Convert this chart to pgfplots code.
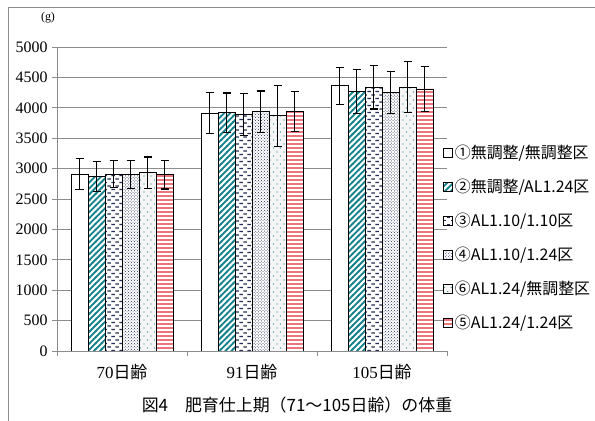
\documentclass[border=0pt]{standalone}
\usepackage{fontspec}
\setmainfont{Liberation Serif}
\newfontfamily\cjk{Noto Sans CJK JP}
\usepackage{pgfplots}
\pgfplotsset{compat=1.18}
\usetikzlibrary{patterns}

% thick diagonal stripes
\pgfdeclarepatternformonly{thickne}{\pgfqpoint{-1pt}{-1pt}}{\pgfqpoint{7pt}{7pt}}{\pgfqpoint{6pt}{6pt}}{
  \pgfsetlinewidth{1.8pt}
  \pgfpathmoveto{\pgfqpoint{-0.5pt}{-0.5pt}}\pgfpathlineto{\pgfqpoint{6.5pt}{6.5pt}}
  \pgfusepath{stroke}}
% staggered horizontal dashes
\pgfdeclarepatternformonly{hdashes}{\pgfqpoint{0pt}{0pt}}{\pgfqpoint{8pt}{7pt}}{\pgfqpoint{8pt}{7pt}}{
  \pgfsetlinewidth{1.2pt}
  \pgfpathmoveto{\pgfqpoint{0.5pt}{1.5pt}}\pgfpathlineto{\pgfqpoint{4pt}{1.5pt}}
  \pgfpathmoveto{\pgfqpoint{4.5pt}{5pt}}\pgfpathlineto{\pgfqpoint{8pt}{5pt}}
  \pgfusepath{stroke}}
% sparse small dots
\pgfdeclarepatternformonly{sparsedots}{\pgfqpoint{0pt}{0pt}}{\pgfqpoint{7pt}{8pt}}{\pgfqpoint{7pt}{8pt}}{
  \pgfpathcircle{\pgfqpoint{1.5pt}{2pt}}{0.6pt}
  \pgfpathcircle{\pgfqpoint{5pt}{6pt}}{0.6pt}
  \pgfusepath{fill}}
% thick horizontal lines
\pgfdeclarepatternformonly{thickh}{\pgfqpoint{0pt}{0pt}}{\pgfqpoint{4pt}{4pt}}{\pgfqpoint{4pt}{4pt}}{
  \pgfsetlinewidth{1.4pt}
  \pgfpathmoveto{\pgfqpoint{0pt}{2pt}}\pgfpathlineto{\pgfqpoint{4pt}{2pt}}
  \pgfusepath{stroke}}

\definecolor{tealS}{RGB}{20,130,140}
\definecolor{navyS}{RGB}{35,45,85}
\definecolor{redS}{RGB}{225,45,55}
\definecolor{gridG}{RGB}{140,140,140}

\begin{document}
\begin{tikzpicture}
\useasboundingbox (0,0) rectangle (595bp,421bp);
\draw[gridG, line width=0.8bp] (8bp,0) -- (8bp,414bp) -- (595bp,414bp);
\begin{axis}[
  at={(57bp,70bp)}, anchor=south west,
  scale only axis, width=390bp, height=304bp,
  ybar=0pt, bar width=17bp,
  xmin=-0.5, xmax=2.5, ymin=0, ymax=5000,
  xtick={0,1,2},
  xticklabels={70{\cjk 日齢},91{\cjk 日齢},105{\cjk 日齢}},
  minor xtick={-0.5,0.5,1.5,2.5},
  ytick={0,500,...,5000},
  axis x line*=bottom, axis y line*=left,
  axis line style={-, draw=gridG, line width=0.8bp},
  tick align=outside,
  major tick length=5bp, minor tick length=5bp,
  every major x tick/.append style={draw=none},
  every minor x tick/.append style={draw=gridG, line width=0.8bp},
  every major y tick/.append style={draw=gridG, line width=0.8bp},
  ymajorgrids, grid style={gridG, line width=0.8bp},
  yticklabel style={font=\fontsize{16}{18}\selectfont, xshift=-1bp},
  xticklabel style={font=\fontsize{17}{19}\selectfont, yshift=-5bp},
  /pgf/number format/assume math mode=true,
  /pgf/number format/1000 sep={},
  error bars/y dir=both, error bars/y explicit,
  error bars/error bar style={black, line width=1.2bp},
  error bars/error mark options={rotate=90, mark size=4bp, line width=1.2bp, black},
  legend style={draw=none, fill=none, at={(axis description cs:0.982,0.372)}, anchor=west,
    font=\cjk\fontsize{16}{18}\selectfont, row sep=15bp, cells={anchor=west},
    nodes={inner xsep=2bp}},
  legend image code/.code={\draw[#1, line width=0.7bp] (0bp,-4.5bp) rectangle (9bp,4.5bp);},
]
\addplot[draw=black, line width=0.9bp, fill=white]
  coordinates {(0,2905) +- (0,255) (1,3912) +- (0,338) (2,4360) +- (0,305)};
\addplot[draw=black, line width=0.9bp, fill=white, postaction={pattern=thickne, pattern color=tealS}]
  coordinates {(0,2866) +- (0,246) (1,3918) +- (0,325) (2,4268) +- (0,365)};
\addplot[draw=black, line width=0.9bp, fill=white, postaction={pattern=hdashes, pattern color=navyS}]
  coordinates {(0,2910) +- (0,222) (1,3893) +- (0,344) (2,4337) +- (0,357)};
\addplot[draw=black, line width=0.9bp, fill=white, postaction={pattern=crosshatch dots, pattern color=navyS}]
  coordinates {(0,2905) +- (0,230) (1,3937) +- (0,338) (2,4250) +- (0,349)};
\addplot[draw=black, line width=0.9bp, fill=gray!8, postaction={pattern=sparsedots, pattern color=tealS}]
  coordinates {(0,2930) +- (0,260) (1,3870) +- (0,503) (2,4340) +- (0,422)};
\addplot[draw=black, line width=0.9bp, fill=white, postaction={pattern=thickh, pattern color=redS}]
  coordinates {(0,2900) +- (0,236) (1,3938) +- (0,325) (2,4310) +- (0,368)};
\legend{①無調整/無調整区, ②無調整/AL1.24区, ③AL1.10/1.10区,
  ④AL1.10/1.24区, ⑥AL1.24/無調整区, ⑤AL1.24/1.24区}
\end{axis}
\node[font=\fontsize{12}{14}\selectfont] at (48bp,403bp) {(g)};
\node[font=\cjk\fontsize{17}{19}\selectfont] at (297bp,16bp) {図4　肥育仕上期（71～105日齢）の体重};
\end{tikzpicture}
\end{document}
